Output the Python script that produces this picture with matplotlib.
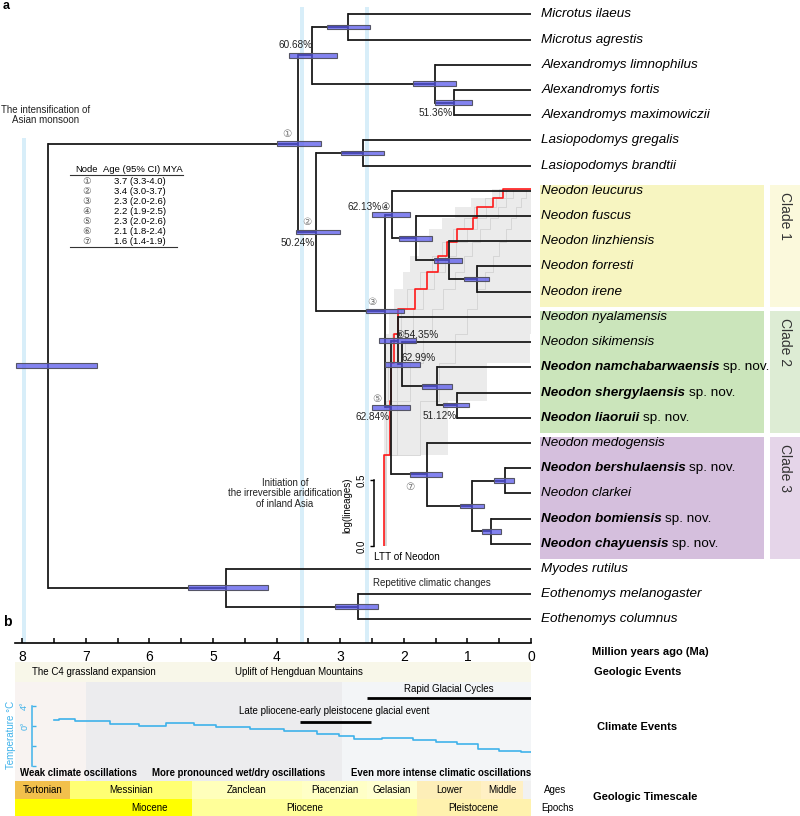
import matplotlib.pyplot as plt
from matplotlib.patches import Rectangle
import numpy as np

plt.rcParams['font.family'] = ['Liberation Sans', 'DejaVu Sans']

# ---------------- data ----------------
tips = ['Microtus ilaeus', 'Microtus agrestis', 'Alexandromys limnophilus', 'Alexandromys fortis',
        'Alexandromys maximowiczii', 'Lasiopodomys gregalis', 'Lasiopodomys brandtii',
        'Neodon leucurus', 'Neodon fuscus', 'Neodon linzhiensis', 'Neodon forresti', 'Neodon irene',
        'Neodon nyalamensis', 'Neodon sikimensis', 'Neodon namchabarwaensis', 'Neodon shergylaensis',
        'Neodon liaoruii', 'Neodon medogensis', 'Neodon bershulaensis', 'Neodon clarkei',
        'Neodon bomiensis', 'Neodon chayuensis', 'Myodes rutilus', 'Eothenomys melanogaster',
        'Eothenomys columnus']
new_species = ['Neodon namchabarwaensis', 'Neodon shergylaensis', 'Neodon liaoruii',
               'Neodon bershulaensis', 'Neodon bomiensis', 'Neodon chayuensis']

node_names = ['root', 'n1', 'ma', 'mic', 'alex', 'fm', 'n2', 'las', 'n3', 'n4', 'c1a', 'c1b', 'c1c',
              'n5', 'n6', 'c2a', 'c2b', 'c2c', 'n7', 'c3a', 'c3b', 'c3c', 'out', 'eoth']
node_age = [7.59, 3.66, 3.44, 2.88, 1.51, 1.21, 3.38, 2.64, 2.30, 2.19, 1.81, 1.29, 0.85,
            2.20, 2.09, 2.03, 1.48, 1.16, 1.63, 0.93, 0.41, 0.63, 4.80, 2.72]
node_lo = [8.10, 4.00, 3.80, 3.20, 1.86, 1.51, 3.70, 2.99, 2.60, 2.50, 2.08, 1.52, 1.05,
           2.50, 2.39, 2.30, 1.71, 1.38, 1.90, 1.12, 0.58, 0.77, 5.39, 3.08]
node_hi = [6.82, 3.30, 3.05, 2.53, 1.18, 0.93, 3.00, 2.31, 2.00, 1.90, 1.56, 1.08, 0.66,
           1.90, 1.81, 1.75, 1.24, 0.97, 1.40, 0.74, 0.27, 0.47, 4.14, 2.40]
node_kids = [['n1', 'out'], ['ma', 'n2'], ['mic', 'alex'],
             ['Microtus ilaeus', 'Microtus agrestis'],
             ['Alexandromys limnophilus', 'fm'],
             ['Alexandromys fortis', 'Alexandromys maximowiczii'],
             ['las', 'n3'], ['Lasiopodomys gregalis', 'Lasiopodomys brandtii'],
             ['n4', 'n5'], ['Neodon leucurus', 'c1a'], ['Neodon fuscus', 'c1b'],
             ['Neodon linzhiensis', 'c1c'], ['Neodon forresti', 'Neodon irene'],
             ['n6', 'n7'], ['Neodon nyalamensis', 'c2a'], ['Neodon sikimensis', 'c2b'],
             ['Neodon namchabarwaensis', 'c2c'], ['Neodon shergylaensis', 'Neodon liaoruii'],
             ['Neodon medogensis', 'c3a'], ['c3b', 'c3c'],
             ['Neodon bershulaensis', 'Neodon clarkei'], ['Neodon bomiensis', 'Neodon chayuensis'],
             ['Myodes rutilus', 'eoth'], ['Eothenomys melanogaster', 'Eothenomys columnus']]

# support / node number labels: node, text, offset px, ha
lab_node = ['ma', 'fm', 'n2', 'n4', 'n6', 'c2a', 'n5', 'c2c']
lab_text = ['60.68%', '51.36%', '50.24%', '62.13%④', '⑥54.35%', '62.99%', '62.84%', '51.12%']
lab_off = [(0, 10), (-1, -10), (-1, -11), (-1, 8), (-3, 6), (0, 6), (-19, -10), (0, -11)]
lab_ha = ['right', 'right', 'right', 'right', 'left', 'left', 'center', 'right']
circ_node = ['n1', 'n2', 'n3', 'n5', 'n7']
circ_text = ['①', '②', '③', '⑤', '⑦']
circ_off = [(-11, 10), (-9, 10), (-13, 9), (-14, 8), (-17, -13)]

table_node = ['①', '②', '③', '④', '⑤', '⑥', '⑦']
table_age = ['3.7 (3.3-4.0)', '3.4 (3.0-3.7)', '2.3 (2.0-2.6)', '2.2 (1.9-2.5)',
             '2.3 (2.0-2.6)', '2.1 (1.8-2.4)', '1.6 (1.4-1.9)']

clade_names = ['Clade 1', 'Clade 2', 'Clade 3']
clade_first = [7, 12, 17]
clade_last = [11, 16, 21]
clade_box = ['#f7f5c1', '#cbe5bb', '#d5bfdd']
clade_strip = ['#fbf9dc', '#ddecd4', '#e5d5e9']

band_ages = [7.97, 3.60, 2.58]
band_top = [4.9, -0.3, -0.3]

# lineage-through-time of Neodon (age of each new lineage, 2..15)
ltt_times = [2.31, 2.22, 2.20, 2.15, 2.09, 1.82, 1.64, 1.46, 1.32, 1.16, 0.91, 0.85, 0.60, 0.44]
ltt_early = [2.32, 2.31, 2.30, 2.28, 2.24, 2.16, 2.02, 1.90, 1.76, 1.60, 1.40, 1.20, 0.95, 0.62]
ltt_late_n = [2, 3, 4, 5]
ltt_late_t = [2.32, 1.30, 0.69, 0.02]
ltt_gray = [[2.31, 2.28, 2.25, 2.18, 2.05, 1.95, 1.75, 1.55, 1.40, 1.22, 1.05, 0.90, 0.72, 0.50],
            [2.30, 2.20, 2.10, 1.98, 1.85, 1.70, 1.52, 1.35, 1.18, 1.00, 0.85, 0.70, 0.55, 0.40],
            [2.29, 2.10, 1.90, 1.70, 1.55, 1.38, 1.20, 1.05, 0.92, 0.80, 0.65, 0.52, 0.40, 0.28],
            [2.28, 1.75, 1.45, 1.20, 1.00, 0.85, 0.72, 0.60, 0.50, 0.40, 0.32, 0.24, 0.16, 0.08]]

# bottom panel
temp_age = [7.5, 7.35, 7.0, 6.25, 6.07, 5.4, 5.2, 4.7, 4.15, 3.63, 3.1, 2.95, 2.63, 2.05,
            1.67, 1.32, 1.0, 0.67, 0.33, 0.0]
temp_val = [1.2, 1.5, 1.1, 0.4, 0.1, 0.6, 0.3, -0.2, -0.5, -0.9, -1.5, -1.9, -2.5, -2.3,
            -2.7, -3.1, -3.6, -4.5, -4.9, -5.2]
climate_bounds = [8.3, 7.0, 2.97, 0.0]
climate_colors = ['#f8f3f1', '#ececee', '#f3f5f7']
climate_labels = ['Weak climate oscillations', 'More pronounced wet/dry oscillations',
                  'Even more intense climatic oscillations']
age_names = ['Tortonian', 'Messinian', 'Zanclean', 'Piacenzian', 'Gelasian', 'Lower', 'Middle', '']
age_bounds = [11.63, 7.25, 5.33, 3.60, 2.58, 1.80, 0.78, 0.126, 0.0]
age_colors = ['#f2c04c', '#ffff73', '#ffffbb', '#ffffc6', '#ffffcf', '#fdeeb8', '#fff0c4', '#f1f1f1']
epoch_names = ['Miocene', 'Pliocene', 'Pleistocene']
epoch_bounds = [11.63, 5.33, 1.80, 0.0]
epoch_colors = ['#ffff00', '#ffff99', '#fff2ae']
epoch_label_age = [6.0, 3.56, 0.9]
glacial_names = ['Rapid Glacial Cycles', 'Late pliocene-early pleistocene glacial event']
glacial_start = [2.58, 3.63]
glacial_end = [0.0, 2.52]

# ---------------- figure ----------------
W, H = 800, 816
fig = plt.figure(figsize=(W / 100, H / 100), dpi=100)


def fx(px):
    return px / W


def fy(py):
    return 1 - py / H


X0, PXMA = 531, 63.6           # x pixel of 0 Ma, pixels per Ma
xl = (X0 - 15) / PXMA

ax = fig.add_axes([fx(15), fy(643), (X0 - 15) / W, 643 / H], zorder=2)
ax.patch.set_alpha(0)
ax.set_xlim(xl, 0)
ax.set_ylim(24.94, -0.575)

# node positions
ypos = {t: i for i, t in enumerate(tips)}
age_of = {t: 0.0 for t in tips}
for n, a in zip(node_names, node_age):
    age_of[n] = a


def get_y(n):
    if n not in ypos:
        k = node_kids[node_names.index(n)]
        ypos[n] = (get_y(k[0]) + get_y(k[1])) / 2
    return ypos[n]


for n in node_names:
    get_y(n)

# blue event bands
for a, top in zip(band_ages, band_top):
    ax.fill_between([a + 0.035, a - 0.035], top, 24.94, color='#d8eef9', lw=0, zorder=0)

# clade boxes
for nm, f, l, cb, cs in zip(clade_names, clade_first, clade_last, clade_box, clade_strip):
    ax.add_patch(Rectangle((-3.66, f - 0.25), 3.52, l - f + 0.87, fc=cb, ec='none',
                           clip_on=False, zorder=0))
    ax.add_patch(Rectangle((-4.3, f - 0.25), 0.54, l - f + 0.87, fc=cs, ec='none',
                           clip_on=False, zorder=0))
    ax.text(-4.0, f + 0.05, nm, rotation=270, ha='center', va='top', fontsize=10,
            color='#333333', clip_on=False)

# tree branches
for n, kids in zip(node_names, node_kids):
    a = age_of[n]
    ys = [ypos[k] for k in kids]
    ax.plot([a, a], [min(ys), max(ys)], color='#1a1a1a', lw=1.3, zorder=3,
            solid_capstyle='projecting')
    for k in kids:
        ax.plot([a, age_of[k]], [ypos[k], ypos[k]], color='#1a1a1a', lw=1.3, zorder=3,
                solid_capstyle='butt')

# 95% HPD bars
for n, lo, hi in zip(node_names, node_lo, node_hi):
    ax.add_patch(Rectangle((hi, ypos[n] - 0.095), lo - hi, 0.19, fc=(0.33, 0.33, 0.92, 0.72),
                           ec='#555566', lw=0.8, zorder=4))

# tip labels
for i, t in enumerate(tips):
    if t in new_species:
        tx = ax.text(-0.16, i, t, fontsize=9.7, style='italic', weight='bold', va='center',
                     clip_on=False)
        ax.annotate('sp. nov.', xy=(1, 0.5), xycoords=tx, xytext=(3.5, 0),
                    textcoords='offset pixels', fontsize=9.7, va='center', ha='left')
    else:
        ax.text(-0.16, i, t, fontsize=9.7, style='italic', va='center', clip_on=False)

# support values and node numbers
for n, s, o, h in zip(lab_node, lab_text, lab_off, lab_ha):
    ax.annotate(s, xy=(age_of[n], ypos[n]), xytext=o, textcoords='offset pixels',
                fontsize=7.2, ha=h, va='center', color='#222222', zorder=6)
for n, s, o in zip(circ_node, circ_text, circ_off):
    ax.annotate(s, xy=(age_of[n], ypos[n]), xytext=o, textcoords='offset pixels',
                fontsize=7.5, ha='center', va='center', color='#777777', zorder=6)

# axis
for s in ['top', 'right', 'left']:
    ax.spines[s].set_visible(False)
ax.spines['bottom'].set_linewidth(1.2)
ax.set_yticks([])
ax.set_xticks(np.arange(0, 9, 1))
ax.set_xticks(np.arange(0.5, 8, 1), minor=True)
ax.tick_params(axis='x', which='both', direction='in', length=3.5, width=1.1, pad=5,
               labelsize=10)

# annotations in tree
ax.annotate('The intensification of\nAsian monsoon', xy=(7.64, 4.0), ha='center', va='center',
            fontsize=7, color='#222222', annotation_clip=False, linespacing=1.0)
ax.annotate('Initiation of\nthe irreversible aridification\nof inland Asia', xy=(3.87, 19.0),
            ha='center', va='center', fontsize=6.9, color='#222222', linespacing=1.05)
ax.annotate('Repetitive climatic changes', xy=(2.48, 22.55), ha='left', va='center',
            fontsize=7, color='#222222')

# node age table
fig.text(fx(87), fy(169), 'Node', fontsize=6.8, ha='center', va='center')
fig.text(fx(143), fy(169), 'Age (95% CI) MYA', fontsize=6.8, ha='center', va='center')
fig.add_artist(plt.Line2D([fx(70), fx(183)], [fy(175), fy(175)], color='#333333', lw=0.8))
fig.add_artist(plt.Line2D([fx(70), fx(177)], [fy(247), fy(247)], color='#333333', lw=0.8))
for k, (s, a) in enumerate(zip(table_node, table_age)):
    fig.text(fx(87), fy(182 + 10 * k), s, fontsize=6.8, ha='center', va='center', color='#555555')
    fig.text(fx(140), fy(182 + 10 * k), a, fontsize=6.8, ha='center', va='center')

fig.text(fx(3), fy(6), 'a', fontsize=9, weight='bold', va='center')
fig.text(fx(3), fy(622), 'b', fontsize=10, weight='bold', va='center')

# ---------------- LTT inset ----------------
axl = fig.add_axes([fx(374), fy(546), (X0 - 374) / W, (546 - 180) / H], zorder=1)
axl.patch.set_alpha(0)
axl.set_xlim((X0 - 374) / PXMA, 0)
axl.set_ylim(0, (546 - 180) / 132)


def steps(times, n0=1):
    xs = [times[0]] + list(times) + [0.0]
    ys = [n0] + list(range(n0 + 1, n0 + 1 + len(times))) + [n0 + len(times)]
    return np.array(xs), np.log(np.array(ys, dtype=float))


ex, ey = steps(ltt_early)
lx = [ltt_late_t[0]] + ltt_late_t + [0.0]
lyv = [1] + ltt_late_n + [ltt_late_n[-1]]
# polygon of the posterior cloud
poly_x, poly_y = [], []
for i in range(len(ex) - 1):
    poly_x += [ex[i], ex[i + 1]]
    poly_y += [ey[i], ey[i]]
poly_x += [0.0, 0.0]
poly_y += [ey[-1], np.log(lyv[-1])]
for i in range(len(lx) - 1, 0, -1):
    poly_x += [lx[i], lx[i - 1]]
    poly_y += [np.log(lyv[i - 1]), np.log(lyv[i - 1])]
axl.fill(poly_x, poly_y, color='#ebebeb', lw=0)
for g in ltt_gray:
    gx, gy = steps(g)
    axl.plot(gx, gy, drawstyle='steps-post', color='#d2d2d2', lw=0.6)
rx, ry = steps(ltt_times)
axl.plot(rx, ry, drawstyle='steps-post', color='#ff1a1a', lw=1.2)

for s in ['top', 'right', 'bottom']:
    axl.spines[s].set_visible(False)
axl.spines['left'].set_bounds(0, 0.5)
axl.spines['left'].set_linewidth(1.1)
axl.set_xticks([])
axl.set_yticks([0, 0.5])
axl.set_yticklabels(['0.0', '0.5'], rotation=90, va='center')
axl.tick_params(axis='y', length=3, width=1, labelsize=7, pad=2)
axl.set_ylabel('log(lineages)', fontsize=7, labelpad=2)
axl.yaxis.set_label_coords(-0.14, 0.112)
axl.text(0.0, -0.03, 'LTT of Neodon', transform=axl.transAxes, fontsize=7.2, va='center')

# ---------------- bottom panel ----------------
axb = fig.add_axes([fx(15), 0, (X0 - 15) / W, 154 / H], zorder=1)
axb.set_xlim(xl, 0)
axb.set_ylim(816, 662)
axb.axis('off')

axb.fill_between([xl, 0], 662, 682, color='#f8f7e9', lw=0)
axb.text(7.85, 672, 'The C4 grassland expansion', fontsize=7, va='center', ha='left')
axb.text(3.65, 672, 'Uplift of Hengduan Mountains', fontsize=7, va='center', ha='center')

for a0, a1, c in zip(climate_bounds[:-1], climate_bounds[1:], climate_colors):
    axb.fill_between([a0, a1], 682, 781, color=c, lw=0)
for lab, a in zip(climate_labels, [8.04, 5.96, 2.83]):
    axb.text(a, 773, lab, fontsize=6.9, weight='bold', ha='left', va='center')

for nm, a0, a1, yb in zip(glacial_names, glacial_start, glacial_end, [698, 722]):
    axb.plot([a0, a1], [yb, yb], color='black', lw=2.0, solid_capstyle='butt')
axb.text(1.29, 689, glacial_names[0], fontsize=7, ha='center', va='center')
axb.text(3.1, 711, glacial_names[1], fontsize=7, ha='center', va='center')

for nm, a0, a1, c in zip(age_names, age_bounds[:-1], age_bounds[1:], age_colors):
    axb.fill_between([a0, a1], 781, 799, color=c, lw=0)
    mid = (min(a0, xl) + a1) / 2
    axb.text(mid, 790, nm, fontsize=7, ha='center', va='center')
for nm, a0, a1, c, la in zip(epoch_names, epoch_bounds[:-1], epoch_bounds[1:], epoch_colors,
                             epoch_label_age):
    axb.fill_between([a0, a1], 799, 816, color=c, lw=0)
    axb.text(la, 808, nm, fontsize=7, ha='center', va='center')

# temperature curve
axt = fig.add_axes([fx(32), fy(770), (X0 - 32) / W, 70 / H], zorder=3)
axt.patch.set_alpha(0)
axt.set_xlim((X0 - 32) / PXMA, 0)
axt.set_ylim(-8.8, 5.2)
axt.plot(temp_age, temp_val, color='#3fb2ea', lw=1.2, drawstyle='steps-mid')
for s in ['top', 'right', 'bottom']:
    axt.spines[s].set_visible(False)
axt.spines['left'].set_bounds(-8, 4)
axt.spines['left'].set_color('#3fb2ea')
axt.spines['left'].set_linewidth(1.1)
axt.set_xticks([])
axt.set_yticks([4, 0, -4, -8])
axt.set_yticklabels(['4°', '0°', '', ''], rotation=90, va='center')
axt.tick_params(axis='y', direction='in', length=3, width=1, colors='#3fb2ea', labelsize=6.5,
                pad=2)
axt.set_ylabel('Temperature °C', fontsize=7, color='#3fb2ea', labelpad=3)

# right-hand row labels
fig.text(fx(650), fy(652), 'Million years ago (Ma)', fontsize=8, weight='bold', ha='center',
         va='center')
fig.text(fx(638), fy(672), 'Geologic Events', fontsize=8, weight='bold', ha='center', va='center')
fig.text(fx(637), fy(727), 'Climate Events', fontsize=8, weight='bold', ha='center', va='center')
fig.text(fx(645), fy(797), 'Geologic Timescale', fontsize=8, weight='bold', ha='center',
         va='center')
fig.text(fx(555), fy(790), 'Ages', fontsize=7, ha='center', va='center')
fig.text(fx(557), fy(808), 'Epochs', fontsize=7, ha='center', va='center')

fig.savefig('out.png', dpi=100)
